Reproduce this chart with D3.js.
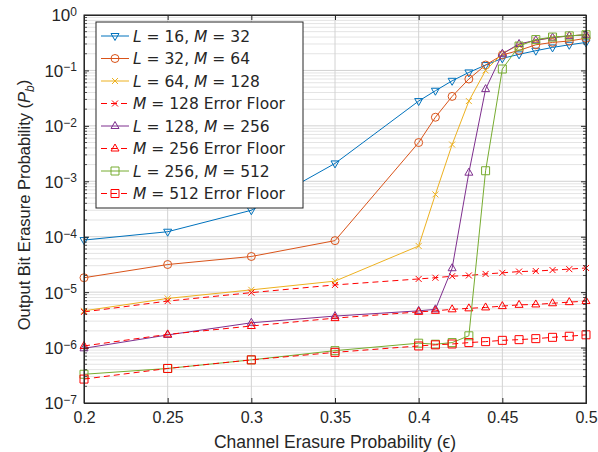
<!DOCTYPE html>
<html>
<head>
<meta charset="utf-8">
<script src="https://cdn.jsdelivr.net/npm/d3@7"></script>
<style>
  body { margin: 0; background: #fff; }
  svg text { font-family: "Liberation Sans", "DejaVu Sans", sans-serif; fill: #262626; }
</style>
</head>
<body>
<svg id="chart" width="598" height="452"></svg>
<script>
// channel erasure probabilities
var epsA = [0.2, 0.25, 0.3, 0.35, 0.4, 0.41, 0.42, 0.43, 0.44, 0.45, 0.46, 0.47, 0.48, 0.49, 0.5];

var pbL16 = [8.7e-5, 1.23e-4, 3.0e-4, 2.1e-3, 0.028, 0.043, 0.065, 0.092, 0.125, 0.165, 0.195, 0.227, 0.26, 0.29, 0.32];
var pbL32 = [1.82e-5, 3.15e-5, 4.4e-5, 8.5e-5, 5.0e-3, 0.0143, 0.034, 0.07, 0.125, 0.19, 0.23, 0.29, 0.32, 0.34, 0.38];
var pbL64 = [4.6e-6, 7.7e-6, 1.1e-5, 1.58e-5, 6.8e-5, 5.8e-4, 4.6e-3, 0.028, 0.10, 0.2, 0.29, 0.35, 0.39, 0.42, 0.44];
var floor128 = [4.4e-6, 6.9e-6, 9.8e-6, 1.35e-5, 1.73e-5, 1.82e-5, 1.94e-5, 2.0e-5, 2.13e-5, 2.23e-5, 2.35e-5, 2.4e-5, 2.5e-5, 2.6e-5, 2.73e-5];
var pbL128 = [9.7e-7, 1.69e-6, 2.8e-6, 3.7e-6, 4.6e-6, 4.9e-6, 2.7e-5, 1.43e-3, 0.046, 0.2, 0.30, 0.35, 0.39, 0.42, 0.44];
var floor256 = [1.07e-6, 1.73e-6, 2.45e-6, 3.4e-6, 4.4e-6, 4.6e-6, 4.9e-6, 5.1e-6, 5.3e-6, 5.6e-6, 5.9e-6, 6.0e-6, 6.3e-6, 6.6e-6, 6.9e-6];
var pbL256 = [3.3e-7, 4.2e-7, 6.0e-7, 8.8e-7, 1.2e-6, 1.15e-6, 1.23e-6, 1.63e-6, 1.55e-3, 0.106, 0.275, 0.36, 0.40, 0.42, 0.44];
var floor512 = [2.7e-7, 4.2e-7, 6.0e-7, 8.2e-7, 1.07e-6, 1.12e-6, 1.16e-6, 1.23e-6, 1.28e-6, 1.35e-6, 1.39e-6, 1.45e-6, 1.53e-6, 1.6e-6, 1.7e-6];

var xTicks = [0.2, 0.25, 0.3, 0.35, 0.4, 0.45, 0.5];
var yTicks = [1e-7, 1e-6, 1e-5, 1e-4, 1e-3, 1e-2, 1e-1, 1];

var series = [
    {label: [["L", 1], [" = 16, ", 0], ["M", 1], [" = 32", 0]], values: pbL16, color: "#0072BD", marker: "tridown", dash: false},
    {label: [["L", 1], [" = 32, ", 0], ["M", 1], [" = 64", 0]], values: pbL32, color: "#D95319", marker: "circle", dash: false},
    {label: [["L", 1], [" = 64, ", 0], ["M", 1], [" = 128", 0]], values: pbL64, color: "#EDB120", marker: "x", dash: false},
    {label: [["M", 1], [" = 128 Error Floor", 0]], values: floor128, color: "#FF0000", marker: "x", dash: true},
    {label: [["L", 1], [" = 128, ", 0], ["M", 1], [" = 256", 0]], values: pbL128, color: "#7E2F8E", marker: "triup", dash: false},
    {label: [["M", 1], [" = 256 Error Floor", 0]], values: floor256, color: "#FF0000", marker: "triup", dash: true},
    {label: [["L", 1], [" = 256, ", 0], ["M", 1], [" = 512", 0]], values: pbL256, color: "#77AC30", marker: "square", dash: false},
    {label: [["M", 1], [" = 512 Error Floor", 0]], values: floor512, color: "#FF0000", marker: "square", dash: true}
];

var svg = d3.select("#chart");
var margin = {top: 15, right: 12, bottom: 49, left: 84};
var width = 598 - margin.left - margin.right;
var height = 452 - margin.top - margin.bottom;

var x = d3.scaleLinear().domain([0.2, 0.5]).range([0, width]);
var y = d3.scaleLog().domain([1e-7, 1]).range([height, 0]);

var root = svg.append("g")
    .attr("transform", "translate(" + margin.left + "," + margin.top + ")");

// minor grid (y)
var minor = [];
for (var e = -7; e < 0; e++) {
    for (var k = 2; k <= 9; k++) minor.push(k * Math.pow(10, e));
}
root.append("g").selectAll("line").data(minor).enter().append("line")
    .attr("x1", 0).attr("x2", width)
    .attr("y1", function (d) { return y(d); }).attr("y2", function (d) { return y(d); })
    .attr("stroke", "#e4e4e4").attr("stroke-width", 1);

// major grid
root.append("g").selectAll("line").data(yTicks).enter().append("line")
    .attr("x1", 0).attr("x2", width)
    .attr("y1", function (d) { return y(d); }).attr("y2", function (d) { return y(d); })
    .attr("stroke", "#d2d2d2").attr("stroke-width", 1);
root.append("g").selectAll("line").data(xTicks).enter().append("line")
    .attr("y1", 0).attr("y2", height)
    .attr("x1", function (d) { return x(d); }).attr("x2", function (d) { return x(d); })
    .attr("stroke", "#d2d2d2").attr("stroke-width", 1);

// markers
function markerPath(type) {
    var s = 4;
    if (type === "circle") return "M" + (-s) + ",0a" + s + "," + s + " 0 1,0 " + (2 * s) + ",0a" + s + "," + s + " 0 1,0 " + (-2 * s) + ",0Z";
    if (type === "square") return "M-4,-4H4V4H-4Z";
    if (type === "triup") return "M0,-4.5L4,2.5L-4,2.5Z";
    if (type === "tridown") return "M0,4.5L4,-2.5L-4,-2.5Z";
    if (type === "x") return "M-3,-3L3,3M-3,3L3,-3";
    return "";
}

var line = d3.line()
    .x(function (d) { return x(d[0]); })
    .y(function (d) { return y(d[1]); });

series.forEach(function (s) {
    var pts = epsA.map(function (e, i) { return [e, s.values[i]]; });
    var g = root.append("g");
    g.append("path")
        .datum(pts)
        .attr("d", line)
        .attr("fill", "none")
        .attr("stroke", s.color)
        .attr("stroke-width", 1)
        .attr("stroke-dasharray", s.dash ? "6,4" : null);
    g.selectAll("path.mk").data(pts).enter().append("path")
        .attr("class", "mk")
        .attr("transform", function (d) { return "translate(" + x(d[0]) + "," + y(d[1]) + ")"; })
        .attr("d", markerPath(s.marker))
        .attr("fill", "none")
        .attr("stroke", s.color)
        .attr("stroke-width", 1);
});

// axes
var xAxis = root.append("g")
    .attr("transform", "translate(0," + height + ")")
    .call(d3.axisBottom(x).tickValues(xTicks).tickSize(-5).tickPadding(9)
        .tickFormat(function (d) { return d3.format("")(+d.toFixed(2)); }));
root.append("g")
    .call(d3.axisTop(x).tickValues(xTicks).tickSize(-5).tickFormat(""));

var yAxis = root.append("g")
    .call(d3.axisLeft(y).tickValues(yTicks).tickSize(-5).tickFormat(""));
root.append("g")
    .attr("transform", "translate(" + width + ",0)")
    .call(d3.axisRight(y).tickValues(yTicks).tickSize(-5).tickFormat(""));

// minor ticks on y
[0, width].forEach(function (xx) {
    var dir = xx === 0 ? 1 : -1;
    root.append("g").selectAll("line").data(minor).enter().append("line")
        .attr("x1", xx).attr("x2", xx + dir * 3)
        .attr("y1", function (d) { return y(d); }).attr("y2", function (d) { return y(d); })
        .attr("stroke", "#262626").attr("stroke-width", 0.8);
});

root.selectAll(".domain").attr("stroke", "#262626");
root.selectAll(".tick line").attr("stroke", "#262626");
xAxis.selectAll("text").attr("font-size", 16).attr("fill", "#262626")
    .style("font-family", "Liberation Sans, sans-serif");

yAxis.selectAll(".tick").each(function (d) {
    var t = d3.select(this).append("text")
        .attr("x", -7).attr("dy", "0.35em")
        .attr("text-anchor", "end")
        .attr("font-size", 17)
        .attr("fill", "#262626")
        .style("font-family", "Liberation Sans, sans-serif");
    var ex = Math.round(Math.log10(d));
    t.append("tspan").text("10");
    t.append("tspan").attr("dy", "-0.45em").attr("font-size", 12)
        .text(ex === 0 ? "0" : "\u2212" + Math.abs(ex));
});

// box
root.append("rect").attr("width", width).attr("height", height)
    .attr("fill", "none").attr("stroke", "#262626").attr("stroke-width", 1);

// axis titles
svg.append("text")
    .attr("x", margin.left + width / 2).attr("y", 448)
    .attr("text-anchor", "middle").attr("font-size", 17.5)
    .text("Channel Erasure Probability (\u03f5)");
var yt = svg.append("text")
    .attr("transform", "translate(30," + (margin.top + height / 2 - 4) + ") rotate(-90)")
    .attr("text-anchor", "middle").attr("font-size", 16.5);
yt.append("tspan").text("Output Bit Erasure Probability (");
yt.append("tspan").attr("font-style", "italic").text("P");
yt.append("tspan").attr("font-style", "italic").attr("font-size", 12).attr("dy", "0.3em").text("b");
yt.append("tspan").attr("dy", "-0.3em").text(")");

// legend
var lg = root.append("g").attr("transform", "translate(12,7)");
lg.append("rect").attr("width", 207).attr("height", 186)
    .attr("fill", "#fff").attr("stroke", "#262626").attr("stroke-width", 1);
series.forEach(function (s, i) {
    var yy = 14 + i * 22.5;
    lg.append("line").attr("x1", 5).attr("x2", 33).attr("y1", yy).attr("y2", yy)
        .attr("stroke", s.color).attr("stroke-width", 1)
        .attr("stroke-dasharray", s.dash ? "6,4" : null);
    lg.append("path").attr("transform", "translate(19," + yy + ")")
        .attr("d", markerPath(s.marker)).attr("fill", "none")
        .attr("stroke", s.color).attr("stroke-width", 1);
    var t = lg.append("text").attr("x", 37).attr("y", yy).attr("dy", "0.36em")
        .attr("font-size", 15.5)
        .style("font-family", "DejaVu Sans, sans-serif");
    s.label.forEach(function (p) {
        t.append("tspan").attr("font-style", p[1] ? "italic" : null).text(p[0]);
    });
});
</script>
</body>
</html>
